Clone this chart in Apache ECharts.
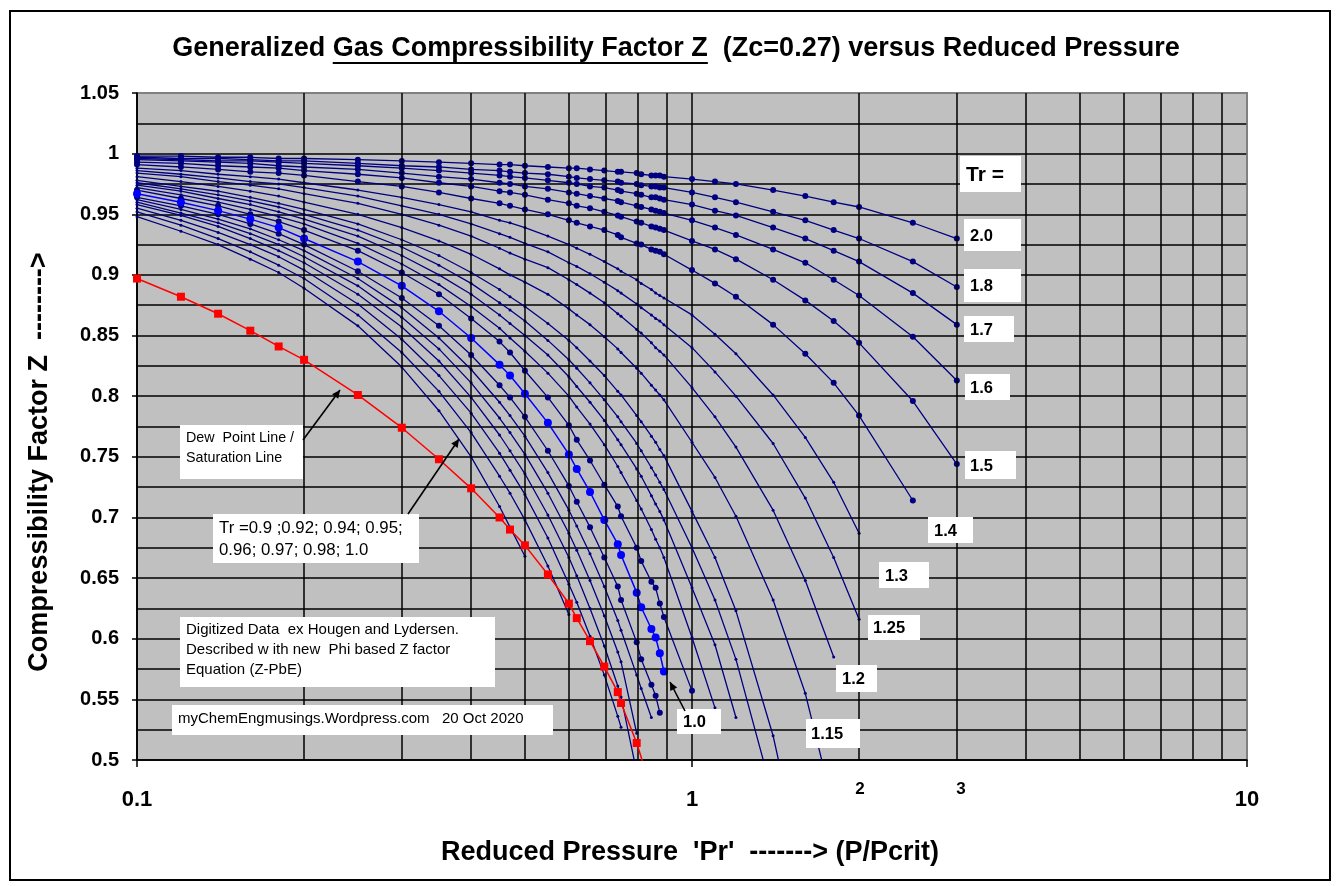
<!DOCTYPE html>
<html><head><meta charset="utf-8">
<script src="https://cdn.jsdelivr.net/npm/echarts@6/dist/echarts.min.js"></script>
<style>html,body{margin:0;padding:0;background:#fff}#c{width:1339px;height:886px}</style>
</head><body><div id="c"></div>
<script>
// ---------------- DATA ----------------
const prGrid = [0.1,0.12,0.14,0.16,0.18,0.2,0.25,0.3,0.35,0.4,0.45,0.47,0.5,0.55,0.6,0.62,0.655,0.695,0.735,0.745,0.795,0.81,0.845,0.86,0.875,0.89,1.0,1.1,1.2,1.4,1.6,1.8,2.0,2.5,3.0];
const z_2_0 = [0.998,0.998,0.997,0.997,0.996,0.996,0.995,0.994,0.993,0.992,0.991,0.991,0.990,0.989,0.988,0.988,0.987,0.986,0.985,0.985,0.984,0.983,0.982,0.982,0.982,0.981,0.979,0.977,0.975,0.970,0.965,0.960,0.956,0.943,0.930];
const z_1_8 = [0.997,0.996,0.996,0.995,0.994,0.994,0.992,0.990,0.989,0.987,0.986,0.985,0.984,0.983,0.981,0.980,0.979,0.978,0.977,0.976,0.975,0.974,0.973,0.973,0.972,0.972,0.968,0.964,0.960,0.952,0.945,0.937,0.930,0.911,0.890];
const z_1_7 = [0.996,0.995,0.994,0.994,0.993,0.992,0.990,0.988,0.986,0.984,0.982,0.981,0.980,0.978,0.976,0.975,0.973,0.972,0.970,0.969,0.967,0.966,0.964,0.964,0.963,0.962,0.958,0.953,0.949,0.939,0.930,0.920,0.911,0.885,0.859];
const z_1_6 = [0.995,0.994,0.993,0.992,0.990,0.989,0.987,0.984,0.981,0.979,0.976,0.975,0.973,0.971,0.968,0.967,0.965,0.963,0.961,0.960,0.957,0.956,0.954,0.953,0.952,0.951,0.945,0.939,0.933,0.921,0.910,0.896,0.883,0.849,0.813];
const z_1_5 = [0.993,0.992,0.990,0.989,0.988,0.986,0.983,0.980,0.976,0.973,0.969,0.968,0.966,0.962,0.959,0.957,0.955,0.952,0.949,0.948,0.944,0.943,0.940,0.939,0.938,0.937,0.928,0.921,0.913,0.896,0.879,0.862,0.844,0.796,0.744];
const z_1_4 = [0.991,0.989,0.987,0.985,0.984,0.982,0.977,0.973,0.968,0.963,0.959,0.957,0.954,0.950,0.945,0.943,0.940,0.937,0.933,0.931,0.926,0.925,0.921,0.920,0.919,0.917,0.904,0.893,0.882,0.859,0.835,0.811,0.784,0.714];
const z_1_3 = [0.988,0.986,0.983,0.981,0.979,0.976,0.970,0.964,0.958,0.952,0.945,0.943,0.939,0.932,0.925,0.922,0.917,0.911,0.905,0.903,0.896,0.893,0.888,0.885,0.883,0.881,0.867,0.851,0.835,0.801,0.766,0.729,0.687];
const z_1_25 = [0.986,0.983,0.980,0.977,0.975,0.972,0.965,0.957,0.950,0.942,0.934,0.931,0.926,0.919,0.910,0.907,0.901,0.894,0.887,0.885,0.876,0.873,0.867,0.864,0.862,0.859,0.840,0.820,0.800,0.761,0.716,0.667,0.616];
const z_1_2 = [0.984,0.981,0.977,0.974,0.971,0.967,0.959,0.950,0.941,0.932,0.922,0.918,0.913,0.906,0.896,0.892,0.885,0.877,0.868,0.866,0.855,0.852,0.844,0.840,0.837,0.834,0.807,0.783,0.758,0.706,0.648,0.585];
const z_1_15 = [0.981,0.977,0.973,0.969,0.965,0.960,0.950,0.939,0.928,0.917,0.905,0.900,0.894,0.884,0.872,0.867,0.859,0.849,0.839,0.836,0.823,0.819,0.809,0.805,0.801,0.797,0.762,0.733,0.701,0.632,0.555,0.460];
const z_1_1 = [0.978,0.973,0.969,0.964,0.959,0.954,0.942,0.929,0.916,0.902,0.888,0.882,0.874,0.860,0.846,0.840,0.829,0.817,0.804,0.801,0.784,0.779,0.767,0.762,0.756,0.751,0.705,0.667,0.623,0.520,0.400];
const z_1_08 = [0.976,0.971,0.966,0.961,0.956,0.950,0.937,0.923,0.908,0.893,0.877,0.871,0.862,0.846,0.830,0.823,0.811,0.797,0.783,0.779,0.761,0.755,0.741,0.735,0.729,0.723,0.675,0.632,0.583,0.470];
const z_1_06 = [0.974,0.969,0.963,0.958,0.952,0.946,0.932,0.916,0.900,0.884,0.867,0.860,0.850,0.834,0.816,0.808,0.795,0.780,0.764,0.760,0.740,0.734,0.718,0.711,0.705,0.698,0.642,0.595,0.535];
const z_1_04 = [0.972,0.966,0.960,0.954,0.948,0.942,0.926,0.909,0.892,0.874,0.856,0.848,0.837,0.819,0.800,0.791,0.777,0.760,0.742,0.737,0.714,0.707,0.690,0.682,0.675,0.667,0.601,0.543];
const z_1_02 = [0.970,0.963,0.957,0.950,0.944,0.937,0.920,0.902,0.884,0.864,0.845,0.836,0.821,0.799,0.776,0.764,0.747,0.727,0.709,0.701,0.675,0.664,0.647,0.642,0.629,0.618,0.557];
const z_1_0 = [0.967,0.960,0.953,0.946,0.939,0.930,0.911,0.891,0.870,0.848,0.826,0.817,0.802,0.778,0.752,0.740,0.721,0.698,0.678,0.669,0.638,0.626,0.608,0.601,0.588,0.573];
const z_0_98 = [0.964,0.957,0.950,0.942,0.934,0.925,0.903,0.881,0.858,0.834,0.809,0.799,0.783,0.755,0.726,0.713,0.692,0.667,0.643,0.632,0.597,0.583,0.562,0.553,0.539];
const z_0_97 = [0.962,0.954,0.946,0.938,0.929,0.920,0.897,0.873,0.848,0.822,0.795,0.784,0.767,0.737,0.706,0.693,0.670,0.643,0.615,0.607,0.570,0.559,0.535];
const z_0_96 = [0.960,0.951,0.943,0.934,0.925,0.915,0.891,0.865,0.839,0.811,0.782,0.770,0.752,0.720,0.687,0.673,0.648,0.619,0.589,0.581,0.522];
const z_0_95 = [0.958,0.949,0.940,0.930,0.920,0.910,0.884,0.857,0.829,0.799,0.768,0.755,0.736,0.702,0.667,0.652,0.625,0.594,0.561,0.552,0.490];
const z_0_94 = [0.955,0.945,0.935,0.925,0.915,0.904,0.876,0.847,0.817,0.786,0.753,0.739,0.719,0.683,0.645,0.630,0.602,0.570,0.536,0.527];
const z_0_92 = [0.952,0.941,0.930,0.919,0.908,0.897,0.867,0.836,0.804,0.770,0.734,0.720,0.698,0.660,0.620];
const z_0_9 = [0.948,0.936,0.925,0.913,0.902,0.889,0.858,0.824,0.788,0.750,0.709,0.692,0.668];
const dewPr = [0.1,0.12,0.14,0.16,0.18,0.2,0.25,0.3,0.35,0.4,0.45,0.47,0.5,0.55,0.6,0.62,0.655,0.695,0.735,0.745,0.795,0.826];
const dewZ = [0.897,0.882,0.868,0.854,0.841,0.830,0.801,0.774,0.748,0.724,0.700,0.690,0.677,0.653,0.629,0.617,0.598,0.577,0.556,0.547,0.514,0.490];
const minorPr = [0.2,0.3,0.4,0.5,0.6,0.7,0.8,0.9,2,3,4,5,6,7,8,9];
const extraXLabels = ['2','3'];

// ---------------- CHART ----------------
const NAVY = '#000080';
function pairs(xs, ys){ return ys.map((y,i)=>[xs[i], y]); }
function curve(name, z, size){
  return {name, type:'line', data: pairs(prGrid, z), symbol:'circle', symbolSize:size,
    itemStyle:{color:NAVY}, lineStyle:{color:NAVY, width:1.3}, z:3, silent:true};
}
const big = 6, small = 3;
const series = [
  {type:'line', data:[], z:1, silent:true,
   markLine:{silent:true, symbol:'none', label:{show:false}, animation:false,
     lineStyle:{color:'#000', width:1.5, type:'solid'},
     data: minorPr.map(v=>({xAxis:v}))}},
  curve('0.9', z_0_9, small), curve('0.92', z_0_92, small), curve('0.94', z_0_94, small),
  curve('0.95', z_0_95, small), curve('0.96', z_0_96, small), curve('0.97', z_0_97, small),
  curve('0.98', z_0_98, big),
  curve('1.02', z_1_02, big), curve('1.04', z_1_04, small), curve('1.06', z_1_06, small),
  curve('1.08', z_1_08, small), curve('1.1', z_1_1, small), curve('1.15', z_1_15, small),
  curve('1.2', z_1_2, small), curve('1.25', z_1_25, small), curve('1.3', z_1_3, small),
  curve('1.4', z_1_4, big), curve('1.5', z_1_5, big), curve('1.6', z_1_6, big),
  curve('1.7', z_1_7, big), curve('1.8', z_1_8, big), curve('2.0', z_2_0, big),
  {name:'1.0', type:'line', data: pairs(prGrid, z_1_0), symbol:'circle', symbolSize:8,
   itemStyle:{color:'#0000FF'}, lineStyle:{color:'#0000FF', width:1.5}, z:4, silent:true},
  {name:'dew', type:'line', data: pairs(dewPr, dewZ), symbol:'rect', symbolSize:8,
   itemStyle:{color:'#FF0000'}, lineStyle:{color:'#FF0000', width:1.5}, z:5, silent:true}
];

const FONT = '"Liberation Sans", Arial, sans-serif';
const TITLE_PRE = 'Generalized ';
const TITLE_UL = 'Gas Compressibility Factor Z';
const TITLE_POST = '  (Zc=0.27) versus Reduced Pressure';
const TITLE_FONT = 'bold 27px ' + FONT;
const mctx = document.createElement('canvas').getContext('2d');
mctx.font = TITLE_FONT;
const wAll = mctx.measureText(TITLE_PRE + TITLE_UL + TITLE_POST).width;
const wPre = mctx.measureText(TITLE_PRE).width;
const wUl = mctx.measureText(TITLE_UL).width;
const titleCx = 676, titleX0 = titleCx - wAll/2;

function box(x0,y0,x1,y1,text,size,tx){
  return [{type:'rect', shape:{x:x0,y:y0,width:x1-x0,height:y1-y0}, style:{fill:'#fff'}, z:50},
          {type:'text', x:tx, y:(y0+y1)/2+1, z:51, style:{text, font:'bold '+size+'px '+FONT, fill:'#000', textVerticalAlign:'middle', verticalAlign:'middle'}}];
}
function note(x0,y0,x1,y1,lines,size,lh,top){
  const els=[{type:'rect', shape:{x:x0,y:y0,width:x1-x0,height:y1-y0}, style:{fill:'#fff'}, z:50}];
  lines.forEach((t,i)=>els.push({type:'text', x:x0+6, y:y0+top+i*lh, z:51,
    style:{text:t, font:size+'px '+FONT, fill:'#000', verticalAlign:'middle', textVerticalAlign:'middle'}}));
  return els;
}
function arrow(x1,y1,x2,y2){
  const a=Math.atan2(y2-y1,x2-x1), L=9, w=0.45;
  return [{type:'line', z:52, shape:{x1,y1,x2,y2}, style:{stroke:'#000', lineWidth:1.6}},
    {type:'polygon', z:52, shape:{points:[[x2,y2],[x2-L*Math.cos(a-w),y2-L*Math.sin(a-w)],[x2-L*Math.cos(a+w),y2-L*Math.sin(a+w)]]}, style:{fill:'#000'}}];
}
const C = {textAlign:'center', align:'center', verticalAlign:'middle', textVerticalAlign:'middle', fill:'#000'};
let graphics = [
  {type:'rect', shape:{x:10,y:11,width:1320,height:869}, style:{fill:'none', stroke:'#000', lineWidth:2}, z:0},
  {type:'text', x:titleCx, y:49, z:51, style:Object.assign({text:TITLE_PRE+TITLE_UL+TITLE_POST, font:TITLE_FONT}, C)},
  {type:'line', z:51, shape:{x1:titleX0+wPre, y1:63, x2:titleX0+wPre+wUl, y2:63}, style:{stroke:'#000', lineWidth:2}},
  {type:'text', x:40, y:462, rotation:Math.PI/2, z:51, style:Object.assign({text:'Compressibility Factor Z  -------->', font:'bold 27px '+FONT}, C)},
  {type:'text', x:690, y:853, z:51, style:Object.assign({text:"Reduced Pressure  'Pr'  -------> (P/Pcrit)", font:'bold 27px '+FONT}, C)},
  {type:'text', x:860, y:789, z:51, style:Object.assign({text:extraXLabels[0], font:'bold 17px '+FONT}, C)},
  {type:'text', x:961, y:789, z:51, style:Object.assign({text:extraXLabels[1], font:'bold 17px '+FONT}, C)}
];
graphics = graphics.concat(
  box(960,156,1021,192,'Tr =',21,966),
  box(964,219,1021,251,'2.0',16.5,970),
  box(964,269,1021,302,'1.8',16.5,970),
  box(964,316,1014,342,'1.7',16.5,970),
  box(965,374,1010,400,'1.6',16.5,970),
  box(965,451,1016,479,'1.5',16.5,970),
  box(928,517,973,543,'1.4',16.5,934),
  box(879,562,929,588,'1.3',16.5,885),
  box(868,615,920,640,'1.25',16.5,873),
  box(836,665,877,692,'1.2',16.5,842),
  box(806,719,860,748,'1.15',16.5,811),
  box(677,709,721,734,'1.0',16.5,683),
  note(180,425,303,479,['Dew  Point Line /','Saturation Line'],14.3,20,13),
  note(213,514,419,563,['Tr =0.9 ;0.92; 0.94; 0.95;','0.96; 0.97; 0.98; 1.0'],16.8,22,14),
  note(180,617,495,687,['Digitized Data  ex Hougen and Lydersen.','Described w ith new  Phi based Z factor','Equation (Z-PbE)'],15,20,13),
  note(172,705,553,735,['myChemEngmusings.Wordpress.com   20 Oct 2020'],15,20,14),
  arrow(303,440,340,390),
  arrow(408,514,459,439),
  arrow(685,711,670,682)
);

const chart = echarts.init(document.getElementById('c'), null, {renderer:'canvas'});
chart.setOption({
  animation:false,
  backgroundColor:'#fff',
  grid:{left:137, right:92, top:93, bottom:126, show:true, backgroundColor:'#C0C0C0', borderColor:'#808080', borderWidth:2},
  xAxis:{type:'log', logBase:10, min:0.1, max:10,
    axisLine:{lineStyle:{color:'#000', width:1.5}},
    axisTick:{show:true, length:7, lineStyle:{color:'#000', width:1.5}},
    axisLabel:{margin:29, fontFamily:FONT, fontWeight:'bold', fontSize:22, color:'#000',
      formatter:v=> (Math.abs(v-0.1)<1e-9?'0.1':String(Math.round(v)))},
    splitLine:{show:true, lineStyle:{color:['#000','#000','#808080'], width:1.5}}},
  yAxis:{type:'value', min:0.5, max:1.05, interval:0.05,
    axisLine:{show:true, lineStyle:{color:'#000', width:1.5}},
    axisTick:{show:true, length:5, lineStyle:{color:'#000', width:1.5}},
    axisLabel:{margin:18, fontFamily:FONT, fontWeight:'bold', fontSize:20, color:'#000'},
    splitLine:{show:true, lineStyle:{color:['#000','#000','#000','#000','#000','#000','#000','#000','#000','#000','#000','#808080'], width:1.5}},
    minorTick:{show:false, splitNumber:2},
    minorSplitLine:{show:true, lineStyle:{color:'#000', width:1.5}}},
  series,
  graphic: graphics
});
</script></body></html>
